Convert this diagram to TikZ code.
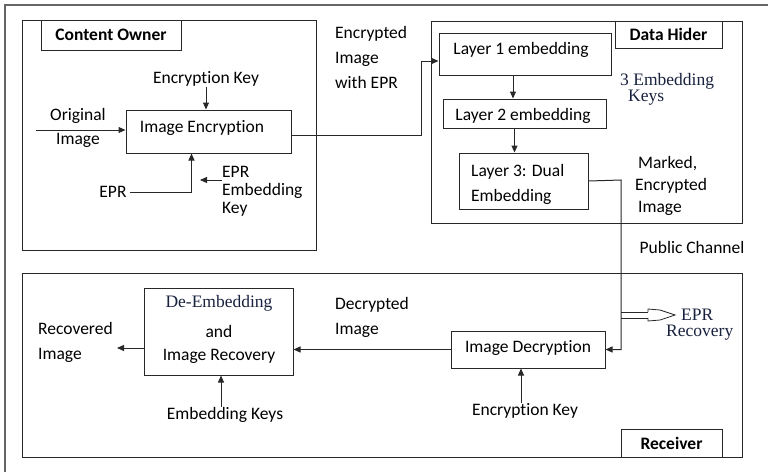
\documentclass[tikz,border=0pt]{standalone}
\usepackage{fontspec}
\setmainfont{Carlito}[Ligatures=NoCommon]
\newfontfamily\serifnav{Liberation Serif}
\usetikzlibrary{arrows.meta}
\definecolor{navy}{RGB}{24,34,62}
\definecolor{linec}{RGB}{40,40,40}
\begin{document}
\begin{tikzpicture}[x=1pt,y=-1pt,
  font=\fontsize{17.5}{24}\selectfont,
  box/.style={draw=linec, line width=1pt, inner sep=0pt, anchor=center},
  txt/.style={inner sep=0pt, align=center},
  ltxt/.style={inner sep=0pt, align=left, anchor=west},
  lbl/.style={box, font=\fontsize{17.5}{24}\selectfont\bfseries},
  arr/.style={draw=linec, line width=1pt, -{Triangle[length=7pt,width=6pt]}},
  ln/.style={draw=linec, line width=1pt},
  sertxt/.style={inner sep=0pt, text=navy, font=\serifnav\fontsize{17.5}{16}\selectfont}
]
\useasboundingbox (0,0) rectangle (768,472);
% outer frame (cropped)
\draw[gray!80!black, line width=1.5pt] (5,472) -- (5,5) -- (768,5);

% big boxes
\node[box, minimum width=294pt, minimum height=230pt] (co) at (169,135) {};
\node[box, minimum width=311pt, minimum height=202pt] (dh) at (586.5,122) {};
\node[box, minimum width=720pt, minimum height=184pt] (rc) at (382,365) {};

% label boxes
\node[lbl, minimum width=140pt, minimum height=30pt] (colbl) at (111,35) {\raisebox{-3pt}{Content Owner}};
\node[lbl, fill=white, minimum width=107pt, minimum height=27pt] (dhlbl) at (668.5,34.5) {\raisebox{-3pt}{Data Hider}};
\node[lbl, fill=white, minimum width=101pt, minimum height=28pt] (rclbl) at (671.5,443) {\raisebox{-3pt}{Receiver}};

% Content owner
\node[box, minimum width=165pt, minimum height=43pt] (enc) at (208.5,131.5) {};
\node[txt] (enctxt) at (202,128) {Image Encryption};
\node[txt] (enckey) at (206,79) {Encryption Key};
\node[txt] (orig) at (78,128) {Original\\Image};
\node[txt, outer sep=3pt] (epr) at (113,192) {EPR};
\node[ltxt, font=\fontsize{17.5}{18}\selectfont] (eek) at (222,191) {EPR\\Embedding\\Key};
\coordinate (oi) at (36,130);
\coordinate (eekfrom) at (222,180);
\coordinate (eekto) at (200,180);

\draw[arr] (enckey.south) -- (enckey.south |- enc.north);
\draw[arr] (oi) -- (oi -| enc.west);
\draw[arr] (epr.east) -| ([xshift=66pt]enc.south west);
\draw[arr] (eekfrom) -- (eekto);

% Encrypted image text
\node[ltxt, font=\fontsize{17.5}{25}\selectfont] (eitxt) at (335,57) {Encrypted\\Image\\with EPR};

% Data hider
\node[box, minimum width=172pt, minimum height=42pt] (l1) at (525,54) {};
\node[txt] (l1t) at (521,50) {Layer 1 embedding};
\node[box, minimum width=163pt, minimum height=29pt] (l2) at (524.5,113.5) {};
\node[txt] (l2t) at (523,116) {Layer 2 embedding};
\node[box, minimum width=129pt, minimum height=56pt] (l3) at (523.5,181) {};
\node[ltxt, font=\fontsize{17.5}{25}\selectfont] (l3t) at (471,184) {Layer 3: Dual\\Embedding};
\node[sertxt, align=left, anchor=west] (ekeys) at (620,89) {3 Embedding\\\hspace*{8pt}Keys};
\node[ltxt, font=\fontsize{17.5}{22}\selectfont] (marked) at (635,186) {\,Marked,\\Encrypted\\\,Image};
\node[txt] (pub) at (692,247) {Public Channel};

\coordinate (c1) at (421,61);
\draw[arr] ([yshift=-3.5pt]enc.east) -| (c1) -- (c1 -| l1.west);
\draw[arr] ([xshift=-12pt]l1.south) -- ([xshift=-12pt]l1.south |- l2.north);
\draw[arr] ([xshift=-10pt]l2.south) -- ([xshift=-10pt]l2.south |- l3.north);

% Receiver
\node[box, minimum width=154pt, minimum height=37pt] (dec) at (528,349.5) {};
\node[txt] (dect) at (528,348) {Image Decryption};
\node[txt] (ek2) at (525,411) {Encryption Key};
\node[box, minimum width=149pt, minimum height=87pt] (dem) at (218.5,331.5) {};
\node[txt, text=navy, font=\serifnav\fontsize{17.5}{20}\selectfont] (demt1) at (219,303) {De-Embedding};
\node[txt] (demt2) at (219,331) {and};
\node[txt] (demt3) at (219,356) {Image Recovery};
\node[ltxt, font=\fontsize{17.5}{25}\selectfont] (rec) at (38,342) {Recovered\\Image};
\node[ltxt, font=\fontsize{17.5}{25}\selectfont] (dect2) at (335,317) {Decrypted\\Image};
\node[txt] (ekk) at (225,415) {Embedding Keys};
\node[sertxt, align=left, anchor=west] (eprr) at (666,325) {\hspace*{15pt}EPR\\Recovery};

\coordinate (ch) at (621,180);
\draw[arr] (l3.east) -- (ch) |- (dec.east);
\draw[arr] (dec.west) -- (dec.west -| dem.east);
\coordinate (recto) at (117,348);
\draw[arr] (recto -| dem.west) -- (recto);
\draw[arr] ([xshift=-4pt]ekk.north) -- ([xshift=-4pt]ekk.north |- dem.south);
\draw[arr] ([xshift=-4pt]ek2.north) -- ([xshift=-4pt]ek2.north |- dec.south);

% EPR recovery hollow arrow
\draw[ln, line width=0.8pt] (621,312) -- (648,312);
\draw[ln, line width=0.8pt] (621,318) -- (648,318);
\draw[ln, line width=0.8pt, fill=white] (648,312) -- (648,309) -- (660,310) -- (675,315) -- (660,320) -- (648,321) -- (648,318);
\end{tikzpicture}
\end{document}
